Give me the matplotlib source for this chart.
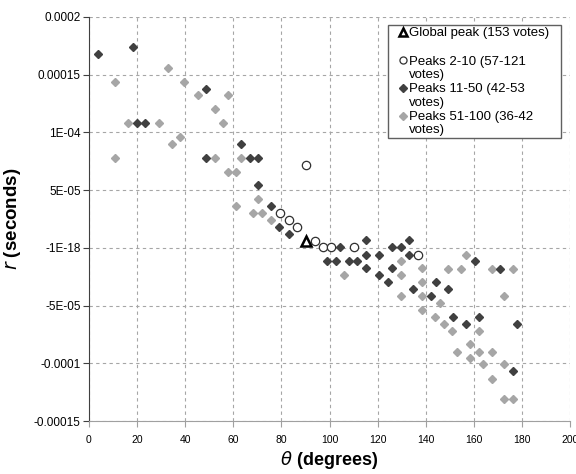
import matplotlib
matplotlib.use("Agg")
import matplotlib.pyplot as plt
import numpy as np

plt.rcParams['font.family'] = ['Liberation Sans', 'DejaVu Sans']

# r values are written in units of 1e-5 seconds
SCALE = 1e-5

# Global peak (153 votes)
theta_global = [90.1]
r_global = [0.63]

# Peaks 2-10 (57-121 votes)
theta_top10 = [90.2, 79.4, 83.0, 86.6, 94.0, 97.4, 100.7, 110.2, 136.9]
r_top10 = [7.2, 3.03, 2.42, 1.82, 0.63, 0.05, 0.05, 0.05, -0.58]

# Peaks 11-50 (42-53 votes)
theta_mid = [3.6, 18.2, 19.8, 23.4, 48.6, 48.6, 63.3, 66.8, 70.3, 70.3,
             75.6, 79.2, 83.0, 99.0, 102.7, 104.4, 108.2, 111.6, 115.2, 115.2,
             115.2, 120.7, 120.7, 125.9, 129.7, 133.2, 133.2, 125.9, 124.2, 134.8,
             142.2, 144.2, 160.4, 170.9, 149.4, 151.2, 162.0, 156.6, 178.1, 176.4]
r_mid = [16.8, 17.4, 10.8, 10.8, 13.8, 7.8, 9.0, 7.8, 7.8, 5.45,
         3.6, 1.8, 1.2, -1.15, -1.15, 0.05, -1.15, -1.15, 0.66, -0.58,
         -1.73, -0.58, -2.37, 0.05, 0.05, 0.66, -0.58, -1.73, -2.97, -3.55,
         -4.15, -2.97, -1.16, -1.79, -3.55, -5.97, -5.97, -6.58, -6.58, -10.7]

# Peaks 51-100 (36-42 votes)
theta_low = [10.9, 16.3, 29.1, 32.7, 39.6, 45.2, 52.2, 34.4, 38.0, 57.8,
             55.9, 52.2, 63.2, 57.8, 61.1, 10.9, 70.3, 61.1, 68.3, 71.9,
             75.6, 106.2, 129.8, 129.8, 129.8, 138.5, 138.5, 138.6, 138.6, 149.4,
             154.7, 156.6, 167.4, 176.4, 172.7, 145.8, 144.0, 147.5, 151.1, 162.0,
             158.3, 153.0, 162.0, 167.4, 158.3, 163.7, 172.7, 167.4, 172.7, 176.4]
r_low = [14.4, 10.8, 10.8, 15.6, 14.4, 13.2, 12.0, 9.0, 9.6, 13.2,
         10.8, 7.8, 7.8, 6.6, 6.6, 7.8, 4.2, 3.6, 3.03, 3.03,
         2.42, -2.37, -1.16, -2.37, -4.15, -1.76, -2.96, -4.15, -5.4, -1.79,
         -1.79, -0.58, -1.79, -1.79, -4.19, -4.76, -5.97, -6.58, -7.16, -7.16,
         -8.37, -8.98, -8.98, -8.98, -9.56, -10.1, -10.1, -11.4, -13.1, -13.1]

yticks = [0.0002, 0.00015, 1e-4, 5e-5, 0.0, -5e-5, -1e-4, -0.00015]
ytick_labels = ['0.0002', '0.00015', '1E-04', '5E-05', '-1E-18',
                '-5E-05', '-0.0001', '-0.00015']
xticks = np.arange(0, 201, 20)

fig = plt.figure(figsize=(5.76, 4.74), dpi=100)
ax = fig.add_axes([0.1545, 0.1118, 0.8351, 0.8524])

dark = '#404040'
light = '#a6a6a6'

ax.plot(theta_global, np.array(r_global) * SCALE, linestyle='none', marker='^',
        ms=7, mfc='white', mec='black', mew=1.8, zorder=5,
        label='Global peak (153 votes)')
ax.plot([], [], linestyle='none', label=' ')
ax.plot(theta_top10, np.array(r_top10) * SCALE, linestyle='none', marker='o',
        ms=6, mfc='white', mec='#303030', mew=0.9, zorder=4,
        label='Peaks 2-10 (57-121\nvotes)')
ax.plot(theta_mid, np.array(r_mid) * SCALE, linestyle='none', marker='D',
        ms=4.5, color=dark, zorder=3, label='Peaks 11-50 (42-53\nvotes)')
ax.plot(theta_low, np.array(r_low) * SCALE, linestyle='none', marker='D',
        ms=4.5, color=light, zorder=2, label='Peaks 51-100 (36-42\nvotes)')

ax.set_xlim(0, 200)
ax.set_ylim(-0.00015, 0.0002)
ax.set_xticks(xticks)
ax.set_xticklabels([str(x) for x in xticks], fontsize=7.5)
ax.set_yticks(yticks)
ax.set_yticklabels(ytick_labels, fontsize=8.5)

ax.grid(True, color='#a6a6a6', linestyle=(0, (3, 3)), linewidth=0.8)
ax.set_axisbelow(True)
for side in ['top', 'right']:
    ax.spines[side].set_visible(False)
ax.spines['left'].set_color('#404040')
ax.spines['bottom'].set_color('#a0a0a0')
ax.tick_params(axis='y', length=4, color='#404040', pad=2)
ax.tick_params(axis='x', length=4, color='#a0a0a0', pad=6)

ax.set_xlabel(r'$\theta$ (degrees)', fontsize=13, fontweight='bold', labelpad=3)
ax.set_ylabel(r'$r$ (seconds)', fontsize=13.5, fontweight='bold', labelpad=8)

leg = ax.legend(loc='upper left', bbox_to_anchor=(0.6216, 0.5, 0.3597, 0.48),
                mode='expand', fontsize=9.5,
                frameon=True, fancybox=False, edgecolor='#606060',
                framealpha=1, handlelength=1.9, handletextpad=-0.45,
                labelspacing=0.18, borderpad=0.15, borderaxespad=0,
                markerscale=0.85)
leg.get_frame().set_linewidth(1.0)
for t in leg.get_texts():
    t.set_linespacing(1.14)
# put each marker beside the first line of its label
for col in leg._legend_handle_box.get_children():
    for row in col.get_children():
        row.align = 'top'

fig.savefig('out.png', dpi=100)
